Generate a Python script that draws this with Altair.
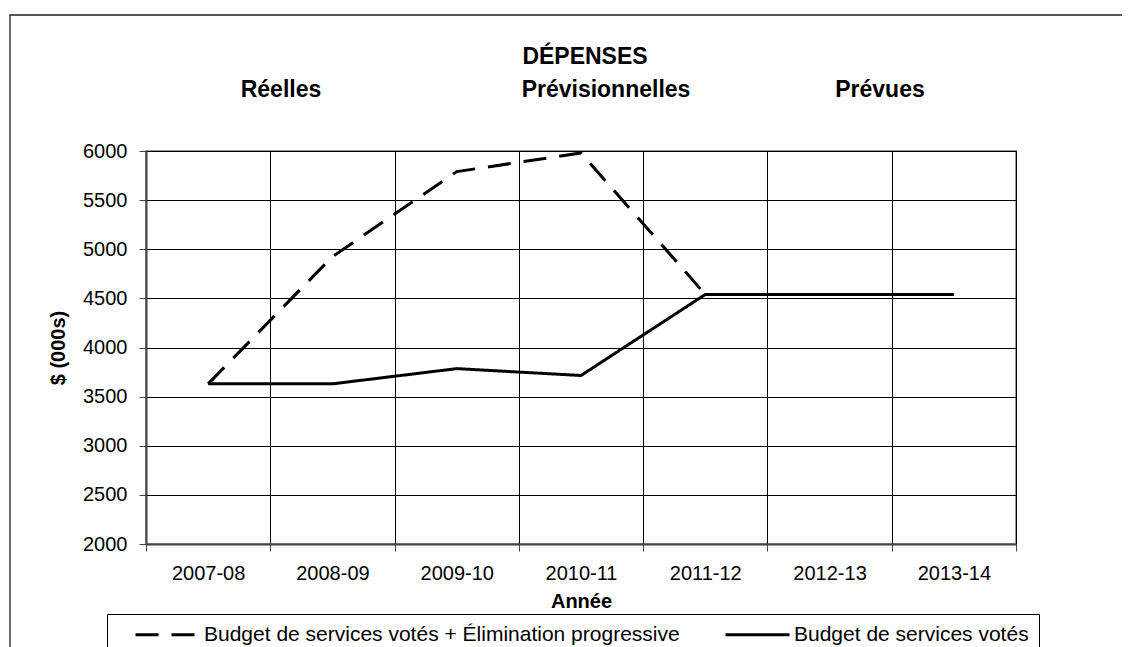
import altair as alt
import pandas as pd

# ---- data ----
categories = ["2007-08", "2008-09", "2009-10", "2010-11", "2011-12", "2012-13", "2013-14"]
series_names = ["Budget de services votés + Élimination progressive", "Budget de services votés"]
values_phaseout = [3630, 4925, 5790, 5980, 4540, 4540, 4540]
values_voted = [3630, 3630, 3785, 3715, 4540, 4540, 4540]
y_ticks = [2000, 2500, 3000, 3500, 4000, 4500, 5000, 5500, 6000]
main_title = "DÉPENSES"
section_labels = ["Réelles", "Prévisionnelles", "Prévues"]
x_title = "Année"
y_title = "$ (000s)"

rows = []
for name, vals in zip(series_names, [values_phaseout, values_voted]):
    for c, v in zip(categories, vals):
        rows.append({"Année": c, "Série": name, "Valeur": v})
df = pd.DataFrame(rows)

FONT = "Liberation Sans"
W, H = 870, 393
PAD_L, PAD_T = 138, 143
OX, OY = 8 + PAD_L, 8 + PAD_T  # page position of plot origin

lines = alt.Chart(df).mark_line(color="black", strokeWidth=3, strokeCap="butt").encode(
    x=alt.X(
        "Année:N",
        sort=categories,
        bandPosition=0.5,
        scale=alt.Scale(type="band", paddingInner=0, paddingOuter=0),
        axis=alt.Axis(
            title=x_title, labelAngle=0, tickBand="extent", tickSize=7,
            labelPadding=22, labelBaseline="middle", labelFontSize=20,
            titleFontSize=20, titleY=57, titleBaseline="middle", grid=True,
        ),
    ),
    y=alt.Y(
        "Valeur:Q",
        scale=alt.Scale(domain=[2000, 6000], nice=False, zero=False),
        axis=alt.Axis(
            values=y_ticks, format="d", tickSize=7, labelPadding=12,
            labelFontSize=20, title=y_title, titleFontSize=20,
            titleX=-88, titleY=H / 2, titleAngle=270, titleAlign="center",
            titleBaseline="middle", grid=True,
        ),
    ),
    strokeDash=alt.StrokeDash(
        "Série:N",
        sort=series_names,
        scale=alt.Scale(domain=series_names, range=[[23, 13], [1, 0]]),
        legend=alt.Legend(
            title=None, orient="none", legendX=107 - OX, legendY=614 - OY,
            direction="horizontal", symbolType="M-1,0H7", symbolSize=256,
            symbolStrokeWidth=3, symbolStrokeColor="black",
            symbolFillColor="transparent",
            labelFont=FONT, labelFontSize=21, labelColor="black",
            labelOffset=50, columnPadding=27, padding=10,
            strokeColor="black", fillColor="white", symbolOffset=16,
            labelLimit=700,
        ),
    ),
)

frame = alt.Chart(pd.DataFrame({"k": [0]})).mark_rect(
    fill="transparent", stroke="#222", strokeWidth=1.3
).encode(
    x=alt.value(10 - OX), x2=alt.value(1300), y=alt.value(15 - OY), y2=alt.value(800)
)

def header(text, cx, cy):
    return alt.Chart(pd.DataFrame({"t": [text]})).mark_text(
        font=FONT, fontSize=23, fontWeight="bold", align="center",
        baseline="middle", color="black"
    ).encode(text="t:N", x=alt.value(cx - OX), y=alt.value(cy - OY))

headers = [
    header(main_title, 585, 57),
    header(section_labels[0], 281, 90),
    header(section_labels[1], 606, 90),
    header(section_labels[2], 880, 90),
]

chart = alt.layer(frame, lines, *headers).properties(
    width=W, height=H,
    padding={"left": PAD_L, "top": PAD_T, "right": 1114 - PAD_L - W, "bottom": 639 - PAD_T - H},
    autosize=alt.AutoSizeParams(type="none"),
).configure_view(
    stroke="#999", strokeWidth=2
).configure_axis(
    gridColor="black", gridWidth=1, domainColor="#444", domainWidth=2,
    tickColor="#444", tickWidth=1, labelFont=FONT, labelColor="black",
    titleFont=FONT, titleFontWeight="bold", titleColor="black",
)

chart.save("out.html", embed_options={"renderer": "svg", "actions": False})
